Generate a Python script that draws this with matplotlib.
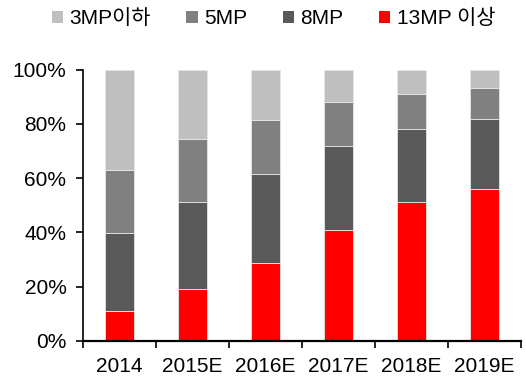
import matplotlib
matplotlib.use("Agg")
import matplotlib.pyplot as plt
from matplotlib.patches import Patch
from matplotlib.ticker import FixedLocator, PercentFormatter
import numpy as np

years = ["2014", "2015E", "2016E", "2017E", "2018E", "2019E"]
series_names = ["3MP이하", "5MP", "8MP", "13MP 이상"]
mp13 = [11.0, 19.0, 28.5, 41.0, 51.0, 56.0]
mp8 = [28.7, 32.1, 32.8, 30.7, 27.1, 25.6]
mp5 = [23.3, 23.4, 20.2, 16.4, 13.0, 11.5]
mp3 = [37.0, 25.5, 18.5, 11.9, 8.9, 6.9]

colors = {"3MP이하": "#BFBFBF", "5MP": "#808080", "8MP": "#595959", "13MP 이상": "#FF0000"}

plt.rcParams["font.family"] = ["Liberation Sans", "Noto Sans CJK KR"]

fig = plt.figure(figsize=(5.26, 3.82), dpi=100)
ax = fig.add_axes([0.158, 0.108, 0.832, 0.71])

x = np.arange(len(years))
width = 0.4
stack = [("13MP 이상", mp13), ("8MP", mp8), ("5MP", mp5), ("3MP이하", mp3)]
bottom = np.zeros(len(years))
for name, vals in stack:
    vals = np.array(vals)
    ax.bar(x, vals, width, bottom=bottom, color=colors[name],
           edgecolor="#E6E6E6", linewidth=0.6, zorder=2)
    bottom += vals

ax.set_xlim(-0.5, len(years) - 0.5)
ax.set_ylim(0, 100)
ax.yaxis.set_major_locator(FixedLocator([0, 20, 40, 60, 80, 100]))
ax.yaxis.set_major_formatter(PercentFormatter(decimals=0))

ax.set_xticks(x)
ax.set_xticklabels(years)
ax.xaxis.set_minor_locator(FixedLocator(np.arange(-0.5, len(years), 1.0)))
ax.tick_params(axis="x", which="major", length=0, labelsize=15, pad=12)
ax.tick_params(axis="x", which="minor", length=5, width=1.2, direction="out")
ax.tick_params(axis="y", which="major", length=5, width=1.2, direction="out",
               labelsize=15, pad=7)

for side in ["top", "right"]:
    ax.spines[side].set_visible(False)
ax.spines["left"].set_linewidth(1.2)
ax.spines["bottom"].set_linewidth(1.6)

handles = [Patch(facecolor=colors[n], edgecolor="none") for n in series_names]
fig.legend(handles, series_names, loc="upper center", bbox_to_anchor=(0.52, 1.025),
           ncol=4, frameon=False, fontsize=15, handlelength=0.55, handleheight=0.55,
           handletextpad=0.3, columnspacing=1.7)

fig.savefig("out.png", dpi=100)
